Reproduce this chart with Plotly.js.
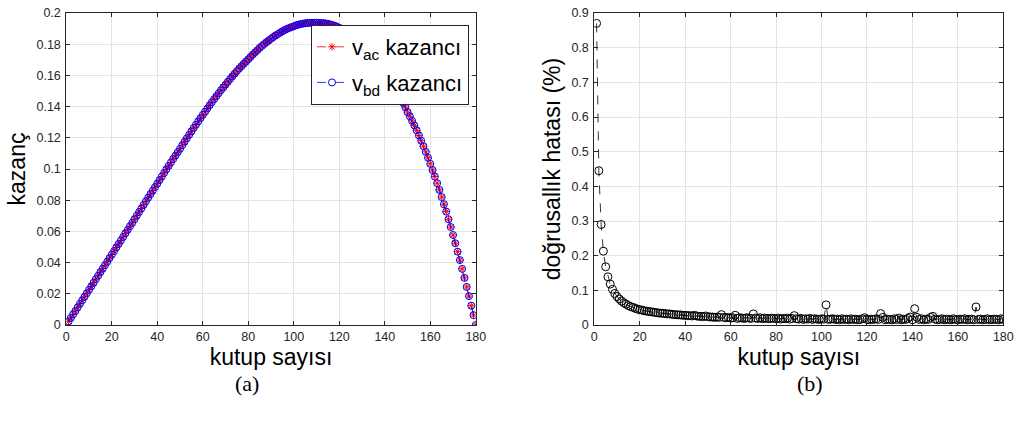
<!DOCTYPE html>
<html>
<head>
<meta charset="utf-8">
<script src="https://cdn.plot.ly/plotly-3.0.1.min.js"></script>
<style>html,body{margin:0;padding:0;background:#fff;}#chart{width:1014px;height:428px;}</style>
</head>
<body>
<div id="chart"></div>
<script>
// pole counts 1..180 (x categories)
const poleCount = [];
for (let i = 1; i <= 180; i++) poleCount.push(i);

// gain
const vacGain = [
0.0023,0.0045,0.0068,0.0090,0.0113,0.0136,0.0158,0.0181,0.0203,0.0226,
0.0248,0.0271,0.0294,0.0316,0.0339,0.0361,0.0384,0.0406,0.0429,0.0451,
0.0474,0.0497,0.0519,0.0542,0.0565,0.0588,0.0610,0.0633,0.0655,0.0678,
0.0701,0.0724,0.0747,0.0770,0.0793,0.0816,0.0839,0.0861,0.0884,0.0906,
0.0929,0.0952,0.0975,0.0998,0.1020,0.1042,0.1064,0.1086,0.1108,0.1130,
0.1153,0.1175,0.1197,0.1219,0.1241,0.1263,0.1284,0.1305,0.1326,0.1347,
0.1367,0.1388,0.1408,0.1428,0.1448,0.1467,0.1486,0.1505,0.1523,0.1541,
0.1559,0.1577,0.1594,0.1611,0.1628,0.1644,0.1659,0.1675,0.1689,0.1704,
0.1719,0.1734,0.1748,0.1762,0.1776,0.1789,0.1801,0.1813,0.1824,0.1835,
0.1846,0.1856,0.1865,0.1874,0.1883,0.1891,0.1898,0.1904,0.1910,0.1915,
0.1921,0.1925,0.1929,0.1932,0.1934,0.1936,0.1937,0.1937,0.1937,0.1937,
0.1936,0.1936,0.1935,0.1933,0.1930,0.1927,0.1923,0.1918,0.1912,0.1905,
0.1899,0.1893,0.1885,0.1877,0.1868,0.1858,0.1846,0.1834,0.1822,0.1808,
0.1794,0.1779,0.1763,0.1747,0.1729,0.1710,0.1691,0.1670,0.1649,0.1626,
0.1605,0.1582,0.1559,0.1534,0.1509,0.1482,0.1454,0.1425,0.1396,0.1365,
0.1338,0.1309,0.1279,0.1248,0.1215,0.1181,0.1146,0.1110,0.1072,0.1033,
0.0993,0.0952,0.0909,0.0866,0.0820,0.0774,0.0727,0.0678,0.0628,0.0577,
0.0524,0.0470,0.0416,0.0360,0.0302,0.0244,0.0185,0.0124,0.0063,0
];
// v_bd gain coincides with v_ac gain in the figure
const vbdGain = vacGain.slice();

// linearity error (%)
const linError = [
0.870,0.445,0.290,0.213,0.168,0.139,0.118,0.103,0.091,0.082,
0.075,0.069,0.064,0.060,0.056,0.053,0.051,0.048,0.046,0.044,
0.043,0.041,0.040,0.039,0.038,0.037,0.036,0.035,0.034,0.034,
0.033,0.032,0.032,0.031,0.030,0.030,0.029,0.029,0.028,0.028,
0.027,0.027,0.026,0.028,0.026,0.025,0.025,0.024,0.026,0.024,
0.023,0.023,0.022,0.023,0.022,0.030,0.022,0.021,0.022,0.020,
0.021,0.028,0.019,0.021,0.020,0.019,0.021,0.020,0.019,0.032,
0.020,0.019,0.021,0.018,0.020,0.019,0.018,0.020,0.019,0.018,
0.020,0.017,0.019,0.018,0.020,0.017,0.019,0.027,0.018,0.017,
0.019,0.016,0.018,0.017,0.019,0.016,0.018,0.017,0.016,0.018,
0.017,0.058,0.016,0.017,0.018,0.016,0.017,0.015,0.018,0.016,
0.017,0.015,0.018,0.016,0.017,0.015,0.016,0.018,0.021,0.016,
0.015,0.017,0.016,0.018,0.016,0.033,0.022,0.015,0.017,0.016,
0.015,0.018,0.016,0.020,0.015,0.017,0.016,0.019,0.023,0.015,
0.047,0.022,0.016,0.018,0.015,0.017,0.016,0.022,0.025,0.017,
0.015,0.016,0.018,0.015,0.017,0.016,0.015,0.018,0.016,0.015,
0.017,0.016,0.018,0.015,0.016,0.017,0.015,0.052,0.016,0.017,
0.015,0.016,0.018,0.015,0.016,0.017,0.016,0.015,0.018,0.016
];

const xTicks = [0,20,40,60,80,100,120,140,160,180];
const gainTicks = [0,0.02,0.04,0.06,0.08,0.1,0.12,0.14,0.16,0.18,0.2];
const gainTickText = ['0','0.02','0.04','0.06','0.08','0.1','0.12','0.14','0.16','0.18','0.2'];
const errTicks = [0,0.1,0.2,0.3,0.4,0.5,0.6,0.7,0.8,0.9];
const errTickText = ['0','0.1','0.2','0.3','0.4','0.5','0.6','0.7','0.8','0.9'];

const FONT = '"Liberation Sans", Arial, Helvetica, sans-serif';
const AX = '#262626';
const GRID = '#e3e3e3';

const traces = [
  {x: poleCount, y: vacGain, xaxis: 'x', yaxis: 'y', type: 'scatter', mode: 'lines+markers',
   name: 'v<sub>ac</sub> kazancı', legendgroup: 'ac',
   line: {color: '#ff0000', width: 0.8, dash: 'dash'},
   marker: {symbol: 'asterisk-open', size: 6, color: '#ff0000', line: {color: '#ff0000', width: 1}}},
  {x: poleCount, y: vbdGain, xaxis: 'x', yaxis: 'y', type: 'scatter', mode: 'lines+markers',
   name: 'v<sub>bd</sub> kazancı', legendgroup: 'bd',
   line: {color: '#0000ff', width: 0.8, dash: 'dash'},
   marker: {symbol: 'circle-open', size: 7, color: '#0000ff', line: {color: '#0000ff', width: 1}}},
  {x: poleCount, y: linError, xaxis: 'x2', yaxis: 'y2', type: 'scatter', mode: 'lines+markers',
   showlegend: false, name: 'doğrusallık hatası',
   line: {color: '#000000', width: 0.8, dash: 'dash'},
   marker: {symbol: 'circle-open', size: 8, color: '#000000', line: {color: '#000000', width: 1}}}
];

function xAxis(domain, anchor) {
  return {domain: domain, anchor: anchor, range: [0, 180], tickvals: xTicks,
    ticks: 'inside', ticklen: 4, tickcolor: AX, showline: true, linecolor: AX, linewidth: 1,
    mirror: 'ticks', showgrid: true, gridcolor: GRID, gridwidth: 1, zeroline: false,
    tickfont: {family: FONT, size: 12.5, color: AX},
    title: {text: 'kutup sayısı', font: {family: FONT, size: 23, color: '#000'}, standoff: 3}};
}
function yAxis(domain, anchor, range, vals, text, title) {
  return {domain: domain, anchor: anchor, range: range, tickvals: vals, ticktext: text,
    ticks: 'inside', ticklen: 4, tickcolor: AX, showline: true, linecolor: AX, linewidth: 1,
    mirror: 'ticks', showgrid: true, gridcolor: GRID, gridwidth: 1, zeroline: false,
    tickfont: {family: FONT, size: 12.5, color: AX}, ticklabelstandoff: 2,
    title: {text: title, font: {family: FONT, size: 23, color: '#000'}, standoff: 4}};
}

const yDom = [1 - 325/428, 1 - 13/428];
const layout = {
  width: 1014, height: 428,
  margin: {l: 0, r: 0, t: 0, b: 0},
  paper_bgcolor: '#fff', plot_bgcolor: '#fff',
  showlegend: true,
  xaxis: xAxis([66.3/1014, 475.8/1014], 'y'),
  yaxis: yAxis(yDom, 'x', [0, 0.2], gainTicks, gainTickText, 'kazanç'),
  xaxis2: xAxis([594.3/1014, 1003.3/1014], 'y2'),
  yaxis2: yAxis(yDom, 'x2', [0, 0.9], errTicks, errTickText, 'doğrusallık hatası (%)'),
  legend: {x: 311/1014, y: 1 - 25/428, xanchor: 'left', yanchor: 'top',
    bgcolor: '#fff', bordercolor: AX, borderwidth: 1,
    font: {family: FONT, size: 22, color: '#000'}, tracegroupgap: 4, itemwidth: 30},
  annotations: [
    {text: '(a)', xref: 'paper', yref: 'paper', x: 247/1014, y: 1 - 383/428, showarrow: false,
     xanchor: 'center', yanchor: 'middle', font: {family: '"Liberation Serif", "Times New Roman", serif', size: 22, color: '#000'}},
    {text: '(b)', xref: 'paper', yref: 'paper', x: 810/1014, y: 1 - 383/428, showarrow: false,
     xanchor: 'center', yanchor: 'middle', font: {family: '"Liberation Serif", "Times New Roman", serif', size: 22, color: '#000'}}
  ]
};

Plotly.newPlot('chart', traces, layout, {staticPlot: true, displayModeBar: false});
</script>
</body>
</html>
